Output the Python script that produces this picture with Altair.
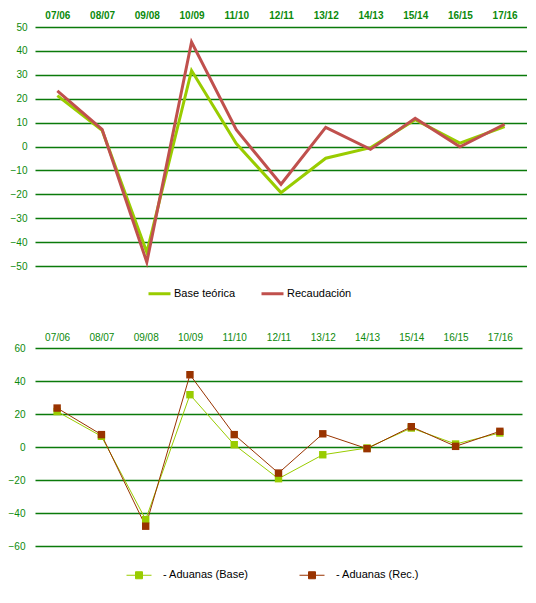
import pandas as pd
import altair as alt

# periods shown on the top axis of both panels
periods = ["07/06", "08/07", "09/08", "10/09", "11/10", "12/11",
           "13/12", "14/13", "15/14", "16/15", "17/16"]

# upper panel: year-on-year change (%)
base_teorica = [21.3, 6.8, -44.3, 31.8, 1.2, -19.3, -4.9, -0.5, 11.2, 1.4, 8.3]
recaudacion = [23.3, 7.2, -48.4, 43.7, 7.0, -15.8, 8.0, -1.2, 11.8, -0.1, 9.3]

# lower panel: customs series
aduanas_base = [21.5, 6.5, -44.0, 31.7, 1.4, -19.2, -4.7, -0.6, 11.5, 1.8, 8.5]
aduanas_rec = [23.6, 7.5, -48.0, 43.8, 7.5, -15.8, 8.0, -1.0, 12.3, 0.4, 9.5]

GREEN_TXT = "#0b8a0b"
GRID = "#0a7a0a"
FONT = "Liberation Sans"


def long_table(names, series):
    rows = []
    for name, values in zip(names, series):
        for p, v in zip(periods, values):
            rows.append({"periodo": p, "serie": name, "valor": v})
    return pd.DataFrame(rows)


def x_enc(bold, pad):
    return alt.X("periodo:N", sort=periods,
                 scale=alt.Scale(type="point", padding=0.5),
                 axis=alt.Axis(orient="top", title=None, labelAngle=0, ticks=False,
                               domain=False, grid=False, labelColor=GREEN_TXT,
                               labelFont=FONT, labelFontSize=10,
                               labelFontWeight="bold" if bold else "normal",
                               labelPadding=pad))


def y_enc(lo, hi, step, pad):
    return alt.Y("valor:Q", scale=alt.Scale(domain=[lo, hi], nice=False, zero=False),
                 axis=alt.Axis(values=list(range(lo, hi + 1, step)), title=None,
                               ticks=False, domain=False, gridColor=GRID, gridWidth=1.3,
                               gridOpacity=1, labelColor=GREEN_TXT, labelFont=FONT,
                               labelFontSize=10, labelPadding=pad))


# ---- upper chart
names_top = ["Base teórica", "Recaudación"]
df_top = long_table(names_top, [base_teorica, recaudacion])

top = alt.Chart(df_top).mark_line(strokeWidth=3).encode(
    x=x_enc(True, 7),
    y=y_enc(-50, 50, 10, 8),
    color=alt.Color("serie:N", sort=names_top,
                    scale=alt.Scale(domain=names_top, range=["#99cc00", "#c0504d"]),
                    legend=alt.Legend(title=None, orient="none", direction="horizontal",
                                      legendX=112, legendY=254, symbolType="stroke",
                                      symbolSize=484, symbolStrokeWidth=3,
                                      labelFont=FONT, labelFontSize=11, labelColor="black",
                                      labelOffset=2, columnPadding=19, padding=0)),
).properties(width=492, height=239)

# ---- lower chart
names_bot = ["- Aduanas (Base)", "- Aduanas (Rec.)"]
df_bot = long_table(names_bot, [aduanas_base, aduanas_rec])

color_bot = alt.Color("serie:N", sort=names_bot,
                      scale=alt.Scale(domain=names_bot, range=["#99cc00", "#993300"]),
                      legend=alt.Legend(title=None, orient="none", direction="horizontal",
                                        legendX=91, legendY=214,
                                        symbolType="M-1,0H1M-0.28,-0.28H0.28V0.28H-0.28Z",
                                        symbolSize=625, symbolStrokeWidth=1,
                                        labelFont=FONT, labelFontSize=11, labelColor="black",
                                        labelOffset=11, columnPadding=48, padding=0))

base_bot = alt.Chart(df_bot).encode(x=x_enc(False, 6), y=y_enc(-60, 60, 20, 10),
                                    color=color_bot)
lines_bot = base_bot.mark_line(strokeWidth=1)
points_bot = base_bot.mark_point(shape="square", filled=True, size=55, opacity=1)

bottom = alt.layer(lines_bot, points_bot).properties(width=487, height=198)

chart = alt.vconcat(top, bottom, spacing=32).resolve_scale(
    color="independent").configure_view(stroke=None).properties(
    background="white", padding={"top": 2, "left": 0, "right": 0, "bottom": 0})

chart.save("out.html", embed_options={"renderer": "svg", "actions": False})
